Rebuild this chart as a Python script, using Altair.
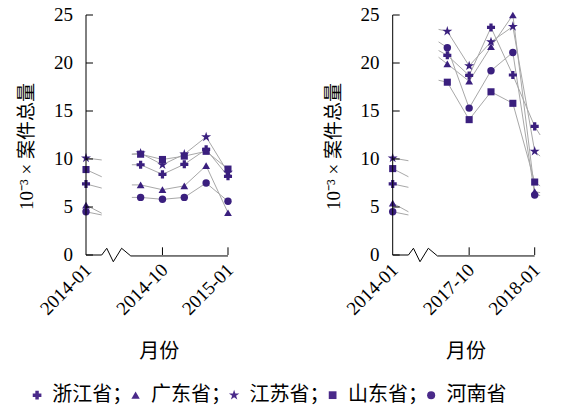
import altair as alt
import pandas as pd

# ---------------- data ----------------
keys = ["zj", "gd", "js", "sd", "hn"]
provinces = ["浙江省", "广东省", "江苏省", "山东省", "河南省"]
legend_labels = ["浙江省；", "广东省；", "江苏省；", "山东省；", "河南省"]

# position of each month on a broken axis: 2014-01, then 5 consecutive months
pos = [0, 2.5, 3.5, 4.5, 5.5, 6.5]
left_months = ["2014-01", "2014-09", "2014-10", "2014-11", "2014-12", "2015-01"]
right_months = ["2014-01", "2017-09", "2017-10", "2017-11", "2017-12", "2018-01"]

left_zhejiang = [7.4, 9.4, 8.4, 9.45, 11.0, 8.2]
left_guangdong = [5.2, 7.3, 6.8, 7.2, 9.3, 4.4]
left_jiangsu = [10.1, 10.6, 9.4, 10.5, 12.3, 8.6]
left_shandong = [8.9, 10.5, 9.95, 10.3, 10.8, 8.95]
left_henan = [4.5, 6.0, 5.8, 6.0, 7.5, 5.6]

right_zhejiang = [7.4, 20.8, 18.7, 23.7, 18.75, 13.4]
right_guangdong = [5.4, 19.9, 18.1, 21.7, 25.0, 6.6]
right_jiangsu = [10.1, 23.3, 19.7, 22.2, 23.8, 10.8]
right_shandong = [9.0, 18.0, 14.1, 17.0, 15.8, 7.6]
right_henan = [4.5, 21.6, 15.3, 19.2, 21.1, 6.25]

# cut-off line pieces at the axis break
left_stub_out = [6.97, 4.35, 9.9, 8.15, 4.17]
left_stub_in = [9.4, 7.3, 10.5, 10.5, 6.0]
right_stub_out = [7.05, 4.5, 9.82, 8.15, 4.17]
right_stub_in = [21.3, 20.6, 23.5, 18.2, 22.2]
right_stub_end = [12.5, 6.5, 10.3, 7.2, 6.2]
stub_out_x = [0, 0.72]
stub_in_x = [2.1, 2.5]
stub_end_x = [6.5, 6.75]

# broken x-axis line
break_x = [0, 0.72, 0.95, 1.25, 1.63, 2.05, 6.5]
break_y = [0, 0, 0.7, -0.7, 0.7, -0.1, -0.1]

y_ticks = [0, 5, 10, 15, 20, 25]
x_tick_pos = [3.5, 6.5]
x_label_pos = [0, 3.5, 6.5]
left_labels = ["2014-01", "2014-10", "2015-01"]
right_labels = ["2014-01", "2017-10", "2018-01"]
y_title = "10⁻³ × 案件总量"
x_title = "月份"

# ---------------- styles ----------------
STAR = ("M0,-1L0.2245,-0.309L0.9511,-0.309L0.3633,0.118L0.5878,0.809L0,0.382"
        "L-0.5878,0.809L-0.3633,0.118L-0.9511,-0.309L-0.2245,-0.309Z")
shapes = ["cross", "triangle-up", STAR, "square", "circle"]
sizes = [65, 60, 110, 50, 55]
leg_sizes = [75, 70, 120, 60, 65]

PANEL_OFFSET = [0.0, 14.04]     # where each panel's y-axis sits (month units)
X_MAX = 20.6
W, H = 450, 240
MARK = "#3a1f7e"
LEG = "#4a2a8a"
LINE = "#a8a8a8"
SERIF = "Liberation Serif"
CJK = "Noto Sans CJK SC"
MIX = "Liberation Serif, Noto Sans CJK SC"

xs = alt.Scale(domain=[0, X_MAX], nice=False, zero=False)
ys = alt.Scale(domain=[0, 25], nice=False, zero=False)


def X(f="x"):
    return alt.X(f"{f}:Q", scale=xs, axis=None)


def Y(f="val"):
    return alt.Y(f"{f}:Q", scale=ys, axis=None)


panels = [
    ([left_zhejiang, left_guangdong, left_jiangsu, left_shandong, left_henan],
     [(stub_out_x, 0, left_stub_out, "out"), (stub_in_x, 1, left_stub_in, "in")],
     left_labels),
    ([right_zhejiang, right_guangdong, right_jiangsu, right_shandong, right_henan],
     [(stub_out_x, 0, right_stub_out, "out"), (stub_in_x, 1, right_stub_in, "in"),
      (stub_end_x, 5, right_stub_end, "out")],
     right_labels),
]

pt_rows, stub_rows, brk_rows, axis_rows, ytick_rows, xtick_rows = [], [], [], [], [], []
ylab_rows, xlab_rows, title_rows = [], [], []
for pi, (series, stubs, labels) in enumerate(panels):
    off = PANEL_OFFSET[pi]
    for key, vals in zip(keys, series):
        for i, (p, v) in enumerate(zip(pos, vals)):
            pt_rows.append({"g": f"{pi}{key}", "key": key, "x": off + p, "val": v, "idx": i})
    for si, (sx, anchor_i, other, kind) in enumerate(stubs):
        for key, vals, o in zip(keys, series, other):
            a, b = (vals[anchor_i], o) if kind == "out" else (o, vals[anchor_i])
            seg = f"{pi}{si}{key}"
            stub_rows.append({"seg": seg, "x": off + sx[0], "val": a})
            stub_rows.append({"seg": seg, "x": off + sx[1], "val": b})
    for bx, by in zip(break_x, break_y):
        brk_rows.append({"g": str(pi), "x": off + bx, "val": by})
    axis_rows.append({"x": off, "y0": 0, "y1": 25})
    for t in y_ticks:
        ytick_rows.append({"x": off, "x2": off + 0.32, "val": t})
        ylab_rows.append({"x": off - 0.6, "val": t, "text": str(t)})
    for t in x_tick_pos:
        xtick_rows.append({"x": off + t, "y0": 0, "y1": 0.8})
    for t, lab in zip(x_label_pos, labels):
        xlab_rows.append({"x": off + t + 0.1, "val": -1.25, "text": lab})
    title_rows.append({"x": off - 2.7, "val": 11.3, "text": y_title, "kind": "y"})
    title_rows.append({"x": off + 3.35, "val": -10.1, "text": x_title, "kind": "x"})

pts = pd.DataFrame(pt_rows)
lines = pts[pts["idx"] > 0].reset_index(drop=True)

line_layer = alt.Chart(lines).mark_line(color=LINE, strokeWidth=1).encode(
    x=X(), y=Y(), detail="g:N")
stub_layer = alt.Chart(pd.DataFrame(stub_rows)).mark_line(color=LINE, strokeWidth=1).encode(
    x=X(), y=Y(), detail="seg:N")

point_layers = []
for key, shp, sz in zip(keys, shapes, sizes):
    sub = pts[pts["key"] == key].reset_index(drop=True)
    point_layers.append(
        alt.Chart(sub).mark_point(shape=shp, filled=True, opacity=1, size=sz, color=MARK)
        .encode(x=X(), y=Y())
    )

brk_layer = alt.Chart(pd.DataFrame(brk_rows)).mark_line(color="black", strokeWidth=1).encode(
    x=X(), y=Y(), detail="g:N")
axis_layer = alt.Chart(pd.DataFrame(axis_rows)).mark_rule(color="black", strokeWidth=1).encode(
    x=X(), y=Y("y0"), y2="y1:Q")
ytick_layer = alt.Chart(pd.DataFrame(ytick_rows)).mark_rule(color="black", strokeWidth=1).encode(
    x=X(), x2="x2:Q", y=Y())
xtick_layer = alt.Chart(pd.DataFrame(xtick_rows)).mark_rule(color="black", strokeWidth=1).encode(
    x=X(), y=Y("y0"), y2="y1:Q")
ylab_layer = alt.Chart(pd.DataFrame(ylab_rows)).mark_text(
    align="right", baseline="middle", font=SERIF, fontSize=19, color="black").encode(
    x=X(), y=Y(), text="text:N")
xlab_layer = alt.Chart(pd.DataFrame(xlab_rows)).mark_text(
    align="right", baseline="middle", angle=315, font=SERIF, fontSize=19, color="black").encode(
    x=X(), y=Y(), text="text:N")
tdf = pd.DataFrame(title_rows)
ytitle_layer = alt.Chart(tdf[tdf["kind"] == "y"].reset_index(drop=True)).mark_text(
    align="center", baseline="middle", angle=270, font=MIX, fontSize=19, color="black").encode(
    x=X(), y=Y(), text="text:N")
xtitle_layer = alt.Chart(tdf[tdf["kind"] == "x"].reset_index(drop=True)).mark_text(
    align="center", baseline="middle", font=CJK, fontSize=20, color="black").encode(
    x=X(), y=Y(), text="text:N")

# legend row
LEG_START, LEG_STEP, LEG_Y = -2.24, 4.51, -14.6
leg_rows = [{"key": k, "x": LEG_START + i * LEG_STEP, "tx": LEG_START + i * LEG_STEP + 0.7,
             "val": LEG_Y, "text": t} for i, (k, t) in enumerate(zip(keys, legend_labels))]
ldf = pd.DataFrame(leg_rows)
leg_layers = []
for key, shp, sz in zip(keys, shapes, leg_sizes):
    sub = ldf[ldf["key"] == key].reset_index(drop=True)
    leg_layers.append(
        alt.Chart(sub).mark_point(shape=shp, filled=True, opacity=1, size=sz, color=LEG)
        .encode(x=X(), y=Y())
    )
leg_text = alt.Chart(ldf).mark_text(
    align="left", baseline="middle", font=CJK, fontSize=20, color="black").encode(
    x=X("tx"), y=Y(), text="text:N")

chart = alt.layer(
    line_layer, stub_layer, *point_layers, brk_layer, axis_layer, ytick_layer,
    xtick_layer, ylab_layer, xlab_layer, ytitle_layer, xtitle_layer, *leg_layers, leg_text,
).properties(
    width=W, height=H,
    autosize=alt.AutoSizeParams(type="none"),
    padding={"left": 86, "top": 15, "right": 41, "bottom": 157},
    background="white",
).configure_view(strokeWidth=0)

chart.save("out.html", embed_options={"renderer": "svg", "actions": False})
